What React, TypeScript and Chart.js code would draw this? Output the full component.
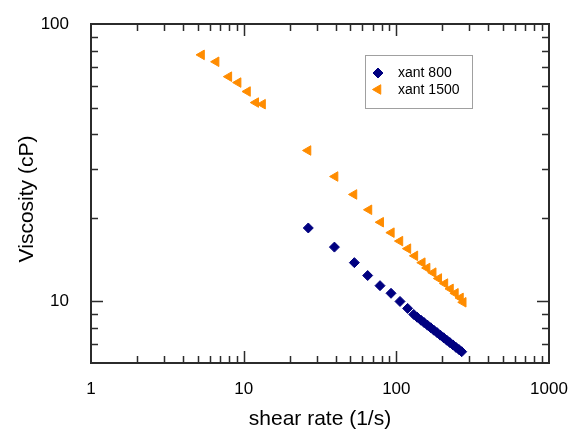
import React, { useEffect, useRef } from "react";
import { Chart, registerables } from "chart.js";

Chart.register(...registerables);

const seriesNames = ["xant 800", "xant 1500"];

const shearRate800 = [26.5, 39.3, 53.1, 64.9, 78.2, 92.3, 105.7, 118.6, 130, 137, 145, 152, 160, 168, 176, 185, 194, 204, 214, 224, 235, 246, 257, 268];
const viscosity800 = [18.4, 15.7, 13.8, 12.4, 11.4, 10.7, 10.0, 9.44, 8.98, 8.77, 8.56, 8.39, 8.21, 8.04, 7.88, 7.72, 7.56, 7.40, 7.25, 7.11, 6.97, 6.83, 6.71, 6.59];

const shearRate1500 = [5.3, 6.6, 8.0, 9.2, 10.6, 12.0, 13.3, 26.4, 39.7, 52.8, 66.2, 79.0, 92.8, 105.6, 119.1, 132.3, 147.9, 159.1, 174.4, 189.7, 208.1, 226.4, 243.8, 263.2, 274.4];
const viscosity1500 = [77.4, 73.1, 64.6, 61.5, 57.1, 52.1, 51.4, 35.0, 28.2, 24.3, 21.4, 19.3, 17.7, 16.5, 15.5, 14.6, 13.8, 13.2, 12.7, 12.1, 11.6, 11.1, 10.7, 10.3, 9.93];

const xTickLabels = [1, 10, 100, 1000];
const yTickLabels = [10, 100];
const xTitle = "shear rate (1/s)";
const yTitle = "Viscosity (cP)";

const navy = "#000080";
const orange = "#FF8C00";
const axisColor = "#2b2b2b";
const fontFamily = "'Liberation Sans', Arial, sans-serif";

function drawMarker(ctx: CanvasRenderingContext2D, style: string, x: number, y: number, r: number, rotationDeg: number) {
  ctx.beginPath();
  if (style === "rectRot") {
    ctx.moveTo(x, y - r);
    ctx.lineTo(x + r, y);
    ctx.lineTo(x, y + r);
    ctx.lineTo(x - r, y);
  } else {
    let rad = (rotationDeg * Math.PI) / 180;
    ctx.moveTo(x + Math.sin(rad) * r, y - Math.cos(rad) * r);
    rad += (2 * Math.PI) / 3;
    ctx.lineTo(x + Math.sin(rad) * r, y - Math.cos(rad) * r);
    rad += (2 * Math.PI) / 3;
    ctx.lineTo(x + Math.sin(rad) * r, y - Math.cos(rad) * r);
  }
  ctx.closePath();
  ctx.fill();
  ctx.stroke();
}

const framePlugin = {
  id: "frameTicks",
  afterDraw(chart: any) {
    const { ctx, chartArea } = chart;
    const xs = chart.scales.x;
    const ys = chart.scales.y;
    const { left, right, top, bottom } = chartArea;
    ctx.save();
    ctx.strokeStyle = axisColor;
    ctx.lineWidth = 2;
    ctx.beginPath();
    ctx.moveTo(left, top);
    ctx.lineTo(right, top);
    ctx.lineTo(right, bottom);
    ctx.stroke();
    ctx.lineWidth = 1.5;
    ctx.beginPath();
    for (let k = 0; k < 3; k++) {
      for (let m = 1; m <= 9; m++) {
        const v = m * Math.pow(10, k);
        if (v <= 1 || v >= 1000) continue;
        const px = Math.round(xs.getPixelForValue(v)) + 0.5;
        const len = m === 1 ? 12 : 7;
        ctx.moveTo(px, bottom);
        ctx.lineTo(px, bottom - len);
        ctx.moveTo(px, top);
        ctx.lineTo(px, top + len);
      }
    }
    for (let k = 0; k < 2; k++) {
      for (let m = 1; m <= 9; m++) {
        const v = m * Math.pow(10, k);
        if (v <= 6 || v >= 100) continue;
        const py = Math.round(ys.getPixelForValue(v)) + 0.5;
        const len = m === 1 ? 12 : 7;
        ctx.moveTo(left, py);
        ctx.lineTo(left + len, py);
        ctx.moveTo(right, py);
        ctx.lineTo(right - len, py);
      }
    }
    ctx.stroke();

    // axis titles
    ctx.fillStyle = "#000";
    ctx.font = `21px ${fontFamily}`;
    ctx.textAlign = "center";
    ctx.textBaseline = "middle";
    ctx.fillText(xTitle, (left + right) / 2, 419);
    ctx.save();
    ctx.translate(27, 199);
    ctx.rotate(-Math.PI / 2);
    ctx.fillText(yTitle, 0, 0);
    ctx.restore();

    // legend box
    const bx = 365.5, by = 55.5, bw = 107, bh = 53;
    ctx.strokeStyle = "#a0a0a0";
    ctx.lineWidth = 1;
    ctx.fillStyle = "#ffffff";
    ctx.fillRect(bx, by, bw, bh);
    ctx.strokeRect(bx, by, bw, bh);
    const rows = [73, 89.5];
    chart.data.datasets.forEach((ds: any, i: number) => {
      const cy = rows[i];
      ctx.fillStyle = ds.backgroundColor;
      ctx.strokeStyle = ds.borderColor;
      ctx.lineWidth = 1;
      drawMarker(ctx, ds.pointStyle, 378, cy, ds.pointRadius, ds.rotation || 0);
      ctx.fillStyle = "#000";
      ctx.font = `14px ${fontFamily}`;
      ctx.textBaseline = "middle";
      ctx.textAlign = "left";
      ctx.fillText(ds.label, 398, cy + 0.5);
    });
    ctx.restore();
  },
};

export default function App() {
  const canvasRef = useRef<HTMLCanvasElement>(null);

  useEffect(() => {
    document.body.style.margin = "0";
    const canvas = canvasRef.current!;
    const chart = new Chart(canvas, {
      type: "scatter",
      data: {
        datasets: [
          {
            label: seriesNames[0],
            data: shearRate800.map((x, i) => ({ x, y: viscosity800[i] })),
            pointStyle: "rectRot",
            pointRadius: 5,
            rotation: 0,
            backgroundColor: navy,
            borderColor: navy,
            borderWidth: 1,
          } as any,
          {
            label: seriesNames[1],
            data: shearRate1500.map((x, i) => ({ x, y: viscosity1500[i] })),
            pointStyle: "triangle",
            pointRadius: 5.5,
            rotation: -90,
            backgroundColor: orange,
            borderColor: orange,
            borderWidth: 1,
          } as any,
        ],
      },
      options: {
        animation: false,
        responsive: false,
        maintainAspectRatio: false,
        layout: { padding: { left: 0, top: 24, right: 22, bottom: 0 } },
        plugins: {
          legend: { display: false },
          tooltip: { enabled: false },
        },
        scales: {
          x: {
            type: "logarithmic",
            min: 1,
            max: 1000,
            afterBuildTicks: (scale: any) => {
              scale.ticks = xTickLabels.map((v) => ({ value: v, major: true }));
            },
            afterFit: (scale: any) => {
              scale.height = 69;
              scale.paddingLeft = 0;
              scale.paddingRight = 0;
            },
            grid: { display: false },
            border: { display: true, color: axisColor, width: 2 },
            ticks: {
              autoSkip: false,
              maxRotation: 0,
              padding: 8,
              color: "#000",
              font: { family: fontFamily, size: 17 },
              callback: (v: any) => String(v),
            },
          },
          y: {
            type: "logarithmic",
            min: 6,
            max: 100,
            afterBuildTicks: (scale: any) => {
              scale.ticks = yTickLabels.map((v) => ({ value: v, major: true }));
            },
            afterFit: (scale: any) => {
              scale.width = 91;
              scale.paddingTop = 0;
              scale.paddingBottom = 0;
            },
            grid: { display: false },
            border: { display: true, color: axisColor, width: 2 },
            ticks: {
              autoSkip: false,
              padding: 14,
              color: "#000",
              font: { family: fontFamily, size: 17 },
              callback: (v: any) => String(v),
            },
          },
        },
      },
      plugins: [framePlugin],
    });
    return () => chart.destroy();
  }, []);

  return (
    <div style={{ width: 571, height: 432 }}>
      <canvas ref={canvasRef} width={571} height={432} style={{ display: "block" }} />
    </div>
  );
}
